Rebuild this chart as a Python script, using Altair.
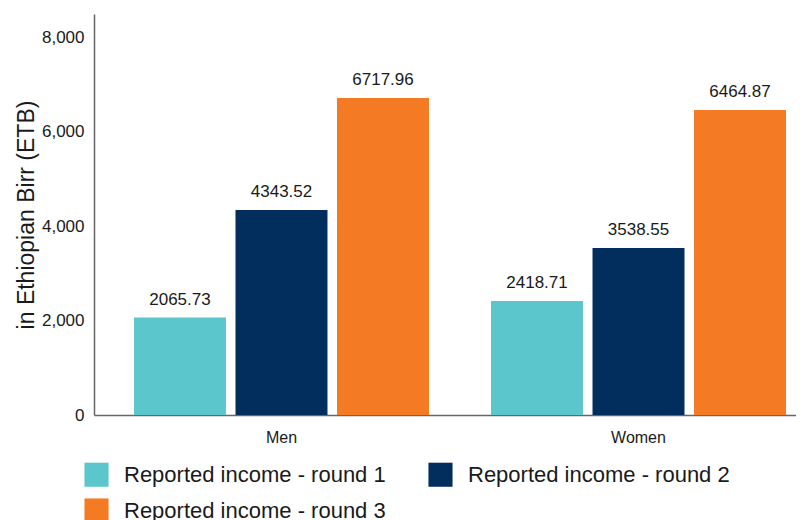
import altair as alt
import pandas as pd

groups = ["Men", "Women"]
series = ["Reported income - round 1", "Reported income - round 2", "Reported income - round 3"]
men_values = [2065.73, 4343.52, 6717.96]
women_values = [2418.71, 3538.55, 6464.87]
colors = ["#5bc6cc", "#012e5d", "#f47a24"]
y_ticks = [0, 2000, 4000, 6000, 8000]

rows = []
for g, vals in zip(groups, [men_values, women_values]):
    for s, v in zip(series, vals):
        rows.append({"group": g, "series": s, "value": v, "label": f"{v:.2f}"})
df = pd.DataFrame(rows)

FONT = "Liberation Sans"
TXT = "#1a1a1a"

base = alt.Chart(df).encode(
    x=alt.X("group:N", sort=groups, title=None,
            scale=alt.Scale(paddingInner=0.1737, paddingOuter=0.070, align=0.8),
            axis=alt.Axis(labelAngle=0, ticks=False, labelFontSize=16, labelColor=TXT,
                          labelPadding=14, domainColor="#666666", domainWidth=1.5,
                          labelFont=FONT)),
    xOffset=alt.XOffset("series:N", sort=series,
                        scale=alt.Scale(paddingInner=0.094, paddingOuter=0)),
)

bars = base.mark_bar().encode(
    y=alt.Y("value:Q", title="in Ethiopian Birr (ETB)",
            scale=alt.Scale(domain=[0, 8500], nice=False),
            axis=alt.Axis(values=y_ticks, format=",.0f", grid=False, ticks=False,
                          labelFontSize=17, labelColor=TXT, labelPadding=10,
                          titleFontSize=23, titleFontWeight="normal", titleColor=TXT,
                          titlePadding=3, domainColor="#666666", domainWidth=1.5,
                          labelFont=FONT, titleFont=FONT)),
    color=alt.Color("series:N", sort=series,
                    scale=alt.Scale(domain=series, range=colors),
                    legend=alt.Legend(title=None, orient="none", legendX=-10, legendY=448,
                                      direction="horizontal",
                                      columns=2, symbolType="square", symbolSize=580,
                                      symbolStrokeWidth=0, symbolOpacity=1,
                                      labelFontSize=22, labelColor=TXT,
                                      labelFont=FONT, rowPadding=11, columnPadding=42,
                                      labelLimit=400, labelOffset=15)),
)

text = base.mark_text(dy=-9, baseline="bottom", fontSize=17, color=TXT, font=FONT).encode(
    y=alt.Y("value:Q"),
    text="label:N",
)

chart = (bars + text).properties(
    width=702, height=401,
    padding={"left": 7, "top": 6, "right": 0, "bottom": 5},
).configure_view(stroke=None)

chart.save("out.html", embed_options={"renderer": "svg", "actions": False})
